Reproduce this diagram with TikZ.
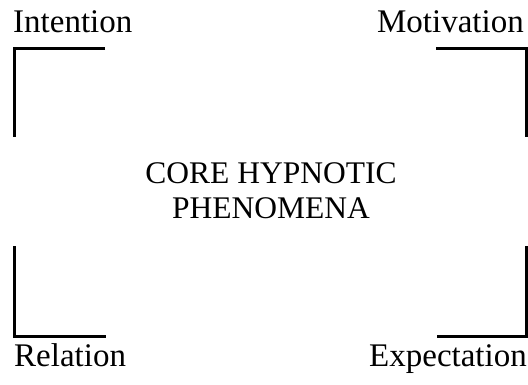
\documentclass[tikz,border=0pt]{standalone}
\usepackage{fontspec}
\setmainfont{Liberation Serif}
\tikzstyle{factor}=[inner sep=0, font=\fontsize{33}{38}\selectfont]
\tikzstyle{core}=[inner sep=0, align=center, font=\fontsize{31.5}{35}\selectfont]
\tikzstyle{bracket}=[line width=3pt]

\begin{document}
\begin{tikzpicture}[x=1pt, y=-1pt]
      \useasboundingbox (0, 0) rectangle (528, 384);

      \node[factor, anchor=base west] (intention) at (13, 32) {Intention};
      \node[factor, anchor=base east] (motivation) at (524, 32) {Motivation};
      \node[factor, anchor=base west] (relation) at (14, 366) {Relation};
      \node[factor, anchor=base east] (expectation) at (527, 366) {Expectation};
      \node[core, anchor=base] (core) at (271, 218) {CORE HYPNOTIC\\PHENOMENA};

      \coordinate (tl_end) at (105, 48);
      \coordinate (tl) at (14.5, 48);
      \coordinate (tl_foot) at (14.5, 137);
      \coordinate (tr_end) at (436, 48);
      \coordinate (tr) at (526.5, 48);
      \coordinate (tr_foot) at (526.5, 137);
      \coordinate (bl_end) at (14.5, 246);
      \coordinate (bl) at (14.5, 336);
      \coordinate (bl_foot) at (106, 336);
      \coordinate (br_end) at (526.5, 246);
      \coordinate (br) at (526.5, 336);
      \coordinate (br_foot) at (437, 336);

      \draw[bracket] (tl_end) -- (tl) -- (tl_foot);
      \draw[bracket] (tr_end) -- (tr) -- (tr_foot);
      \draw[bracket] (bl_end) -- (bl) -- (bl_foot);
      \draw[bracket] (br_end) -- (br) -- (br_foot);
    \end{tikzpicture}
\end{document}
